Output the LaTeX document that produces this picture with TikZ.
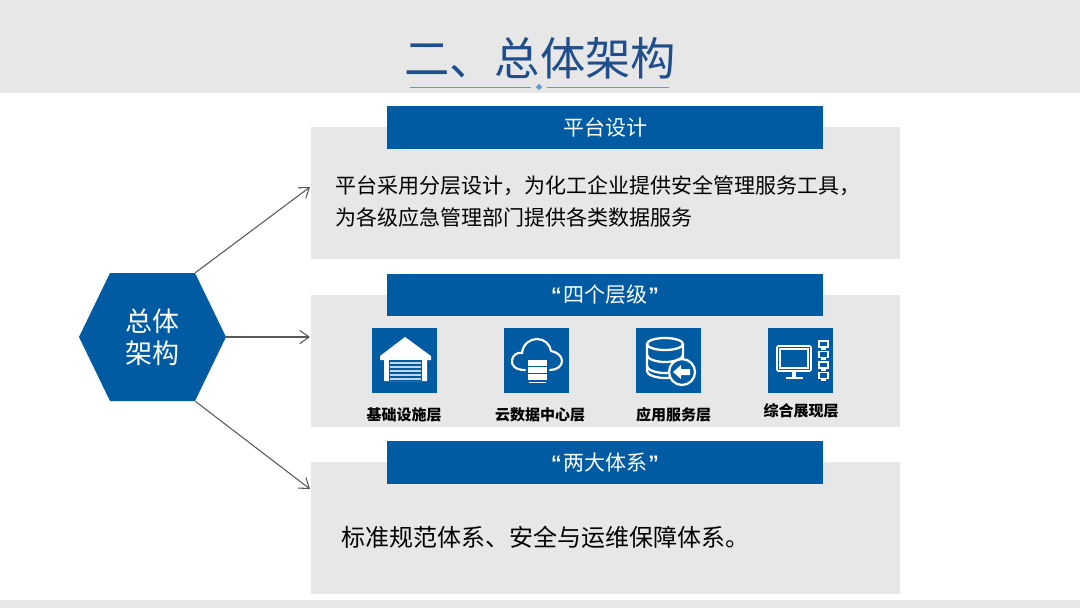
\documentclass[tikz,border=0pt]{standalone}
\usepackage{fontspec}
\setmainfont{Noto Sans CJK SC}
\newfontfamily\quotefont{Liberation Sans}
\usetikzlibrary{arrows.meta,shapes.geometric}
\definecolor{barblue}{RGB}{0,91,163}
\definecolor{panelgray}{RGB}{231,231,231}
\definecolor{titleblue}{RGB}{31,78,140}
\definecolor{ruleblue}{RGB}{91,155,213}
\definecolor{linkgray}{RGB}{89,89,89}
\tikzset{
  panel/.style={fill=panelgray,minimum width=441.75pt,minimum height=99pt,inner sep=0pt},
  headbar/.style={fill=barblue,text=white,minimum width=327pt,minimum height=32pt,inner sep=0pt,font=\fontsize{15.75}{18}\selectfont},
  iconbox/.style={fill=barblue,minimum width=48.75pt,minimum height=48.75pt,inner sep=0pt},
  iconlabel/.style={inner sep=0pt,font=\fontsize{11.25}{13}\selectfont\bfseries},
  bodytext/.style={anchor=west,inner sep=0pt,align=left},
  link/.style={draw=linkgray,line width=0.8pt,-{Straight Barb[length=7pt,width=10pt]}},
}
\newcommand{\openq}{{\quotefont\bfseries “}\kern 1pt}
\newcommand{\closeq}{\kern 1pt{\quotefont\bfseries ”}}
\begin{document}
\begin{tikzpicture}[x=0.75pt,y=-0.75pt]
  \useasboundingbox (0,0) rectangle (1080,608);
  % bands
  \fill[panelgray] (0,0) rectangle (1080,93);
  \fill[panelgray] (0,600) rectangle (1080,608);
  % title
  \node[inner sep=0pt,text=titleblue,font=\fontsize{34}{36}\selectfont] (title) at (540,58) {二、总体架构};
  \node[diamond,fill=ruleblue,minimum size=5pt,inner sep=0pt] (titlemark) at (539,87) {};
  \coordinate (ruleleft) at (410,87);
  \coordinate (ruleright) at (669,87);
  \draw[ruleblue,line width=0.6pt] (ruleleft) -- ([xshift=-3pt]titlemark.west);
  \draw[ruleblue,line width=0.6pt] ([xshift=3pt]titlemark.east) -- (ruleright);
  % panels and bars
  \node[panel] (designpanel) at (605.5,193) {};
  \node[panel] (levelpanel) at (605.5,361) {};
  \node[panel] (systempanel) at (605.5,528) {};
  \node[headbar] (designbar) at (605,127.5) {平台设计};
  \node[headbar] (levelbar) at (605,295) {\openq 四个层级\closeq};
  \node[headbar] (systembar) at (605,462.5) {\openq 两大体系\closeq};
  \node[bodytext,font=\fontsize{15.75}{24}\selectfont] (designtext) at (335,201) {平台采用分层设计，为化工企业提供安全管理服务工具，\\为各级应急管理部门提供各类数据服务};
  \node[bodytext,font=\fontsize{18}{22}\selectfont] (systemtext) at (341,537) {标准规范体系、安全与运维保障体系。};
  % hub and arrows
  \fill[barblue] (79,337) -- (110,273) -- (195,273) -- (226,337) -- (195,401) -- (110,401) -- cycle;
  \node[minimum width=110.25pt,minimum height=96pt,inner sep=0pt,text=white,align=center,font=\fontsize{20.25}{24}\selectfont] (hub) at (152.5,337) {总体\\架构};
  \coordinate (designend) at (310,187);
  \coordinate (levelend) at (310,337);
  \coordinate (systemend) at (310,489);
  \draw[link] ([xshift=-23.25pt]hub.north east) -- (designend);
  \draw[link] (hub.east) -- (levelend);
  \draw[link] ([xshift=-23.25pt]hub.south east) -- (systemend);
  % icons
  \node[iconbox] (baseicon) at (404.5,360.5) {};
  \node[iconbox] (cloudicon) at (536.5,360.5) {};
  \node[iconbox] (appicon) at (668.5,360.5) {};
  \node[iconbox] (showicon) at (800.5,360.5) {};
  \node[iconlabel] (baselabel) at (404,415) {基础设施层};
  \node[iconlabel] (cloudlabel) at (540,415) {云数据中心层};
  \node[iconlabel] (applabel) at (673.5,415) {应用服务层};
  \node[iconlabel] (showlabel) at (801,411) {综合展现层};
  % garage
  \begin{scope}[shift={(372,328)}]
    \fill[white] (33,9) -- (59,28) -- (59,32) -- (55,32) -- (55,53) -- (12,53) -- (12,32) -- (8,32) -- (8,28) -- cycle;
    \fill[barblue] (17,32) rectangle (50,53);
    \foreach \y in {33.5,37.5,41.5,45.5,49.5}
      \fill[white!75!barblue] (18,\y) rectangle (49,\y+2.8);
  \end{scope}
  % cloud
  \begin{scope}[shift={(504,328)}]
    \draw[white,line width=1.6pt,line cap=round] (21,42) .. controls (12,42) and (7,38) .. (8,32)
      .. controls (9,27) and (13,24) .. (18,25) .. controls (19,16) and (26,11) .. (33,11)
      .. controls (40,11) and (46,16) .. (47,23) .. controls (53,24) and (58,28) .. (58,33)
      .. controls (58,38) and (53,42) .. (46,42);
    \foreach \y in {32,39,46}
      \fill[white] (24,\y) rectangle (43,\y+5.5);
    \fill[white] (25,53.5) rectangle (42,54.5);
  \end{scope}
  % database
  \begin{scope}[shift={(636,328)}]
    \draw[white,line width=1.7pt] (29,16) ellipse (18 and 6);
    \draw[white,line width=1.7pt] (11,16) -- (11,43) .. controls (11,47) and (20,50) .. (29,50) .. controls (38,50) and (47,47) .. (47,43) -- (47,16);
    \draw[white,line width=1.7pt] (11,27) .. controls (11,31) and (20,34) .. (29,34) .. controls (38,34) and (47,31) .. (47,27);
    \draw[white,line width=1.7pt] (11,38) .. controls (11,42) and (20,45) .. (29,45) .. controls (38,45) and (47,42) .. (47,38);
    \draw[white,fill=barblue,line width=1.7pt] (46,44) circle (13);
    \fill[white] (37,44) -- (45,37) -- (45,41) -- (54,41) -- (54,47) -- (45,47) -- (45,51) -- cycle;
  \end{scope}
  % monitor
  \begin{scope}[shift={(768,328)}]
    \draw[white,line width=1.2pt,rounded corners=1pt] (9,18) rectangle (43,43);
    \draw[white,line width=0.8pt,fill=barblue] (12,21) rectangle (40,40);
    \fill[white] (24,43) rectangle (28,49);
    \fill[white] (18,49) rectangle (35,51);
    \foreach \y in {13,23.5,34,44.5} {
      \draw[white,line width=0.8pt,fill=barblue] (51,\y) rectangle (60,\y+6);
      \fill[white] (53,\y+6) rectangle (58,\y+8.5);
    }
  \end{scope}
\end{tikzpicture}
\end{document}
